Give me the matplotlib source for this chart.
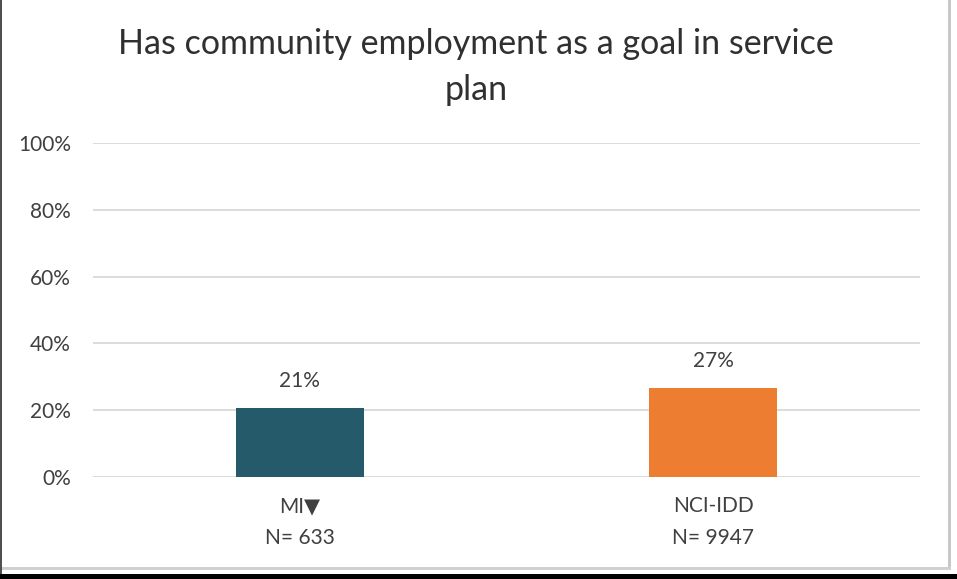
import matplotlib.pyplot as plt
from matplotlib.patches import Rectangle
from matplotlib.ticker import PercentFormatter

# chart values
categories = ['MI\u25bc\nN= 633', 'NCI-IDD\nN= 9947']
values = [0.207, 0.266]
colors = ['#245A6A', '#ED7D31']
yticks = [0, 0.2, 0.4, 0.6, 0.8, 1.0]

plt.rcParams['font.family'] = ['Lato', 'DejaVu Sans']

fig = plt.figure(figsize=(9.57, 5.79), dpi=100)
ax = fig.add_axes([93 / 957, 102 / 579, 827 / 957, 334 / 579])

x = range(len(categories))
bars = ax.bar(x, values, width=0.31, color=colors, zorder=3)
for b, v in zip(bars, values):
    ax.annotate(f'{v:.0%}', (b.get_x() + b.get_width() / 2, v),
                xytext=(0, 12), textcoords='offset points',
                ha='center', va='bottom', fontsize=15, color='#404040')

ax.set_xlim(-0.5, 1.5)
ax.set_ylim(0, 1)
ax.set_yticks(yticks)
ax.yaxis.set_major_formatter(PercentFormatter(1, decimals=0))
ax.set_xticks(list(x))
ax.set_xticklabels(categories, fontsize=15, color='#404040', linespacing=1.75)
ax.tick_params(axis='y', length=0, pad=16, labelsize=15, labelcolor='#404040')
ax.tick_params(axis='x', length=0, pad=14)
ax.grid(axis='y', color='#D9D9D9', linewidth=1.3, zorder=0)
for s in ax.spines.values():
    s.set_visible(False)

fig.text(476 / 957, 1 - 67 / 579, 'Has community employment as a goal in service\nplan',
         ha='center', va='center', fontsize=24.5, color='#303030', linespacing=1.5)

# outer frame of the screenshot
fig.add_artist(Rectangle((0, 0), 2 / 957, 1, transform=fig.transFigure,
                         color='#505050', lw=0))
fig.add_artist(Rectangle((948 / 957, 9 / 579), 3 / 957, 570 / 579,
                         transform=fig.transFigure, color='#C8C8C8', lw=0))
fig.add_artist(Rectangle((2 / 957, 9 / 579), 949 / 957, 3 / 579,
                         transform=fig.transFigure, color='#D0D0D0', lw=0))
fig.add_artist(Rectangle((0, 0), 1, 5 / 579, transform=fig.transFigure,
                         color='black', lw=0))

fig.savefig('out.png', dpi=100)
